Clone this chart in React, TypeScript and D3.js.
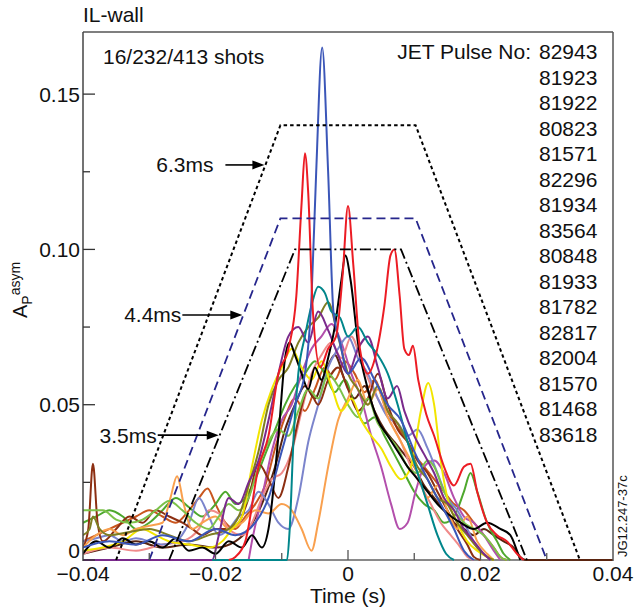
import React from "react";
import * as d3 from "d3";

type Pt = [number, number];

const pulses = ["82943","81923","81922","80823","81571","82296","81934","83564","80848","81933","81782","82817","82004","81570","81468","83618"];

const s82943: Pt[] = [[-0.018,0],[-0.017,0.001],[-0.0155,0.006],[-0.0135,0.030],[-0.012,0.040],[-0.0105,0.060],[-0.009,0.068],[-0.0078,0.085],[-0.0070,0.115],[-0.0065,0.131],[-0.0060,0.118],[-0.0053,0.080],[-0.0042,0.062],[-0.0030,0.068],[-0.0018,0.072],[-0.0008,0.092],[0.0000,0.114],[0.0008,0.095],[0.0018,0.068],[0.0030,0.060],[0.0042,0.066],[0.0055,0.082],[0.0064,0.098],[0.0070,0.100],[0.0078,0.085],[0.0085,0.068],[0.0092,0.066],[0.0098,0.069],[0.0106,0.058],[0.0118,0.047],[0.0130,0.040],[0.0145,0.030],[0.0160,0.024],[0.0175,0.030],[0.0185,0.031],[0.0195,0.022],[0.0210,0.012],[0.0225,0.008],[0.0240,0.006],[0.0255,0.002],[0.0265,0]];
const s81923: Pt[] = [[-0.040,0.004],[-0.036,0.006],[-0.032,0.005],[-0.028,0.008],[-0.024,0.006],[-0.020,0.010],[-0.017,0.008],[-0.014,0.012],[-0.012,0.020],[-0.010,0.035],[-0.008,0.050],[-0.0065,0.060],[-0.0055,0.085],[-0.0048,0.125],[-0.0039,0.165],[-0.0030,0.125],[-0.0022,0.080],[-0.0012,0.070],[0.000,0.060],[0.002,0.065],[0.004,0.058],[0.006,0.050],[0.008,0.045],[0.010,0.035],[0.012,0.026],[0.014,0.018],[0.016,0.010],[0.0175,0.003],[0.019,0]];
const s81922: Pt[] = [[-0.0205,0],[-0.0092,0],[-0.0088,0.010],[-0.0082,0.040],[-0.0075,0.060],[-0.0065,0.072],[-0.0055,0.082],[-0.0045,0.088],[-0.0035,0.086],[-0.0025,0.080],[-0.0012,0.078],[0.0000,0.072],[0.0015,0.075],[0.003,0.070],[0.0045,0.066],[0.006,0.060],[0.0075,0.050],[0.009,0.038],[0.0105,0.028],[0.012,0.018],[0.0135,0.008],[0.0148,0.002],[0.016,0]];
const s80823: Pt[] = [[-0.040,0.002],[-0.038,0.006],[-0.036,0.004],[-0.034,0.007],[-0.032,0.005],[-0.030,0.006],[-0.028,0.004],[-0.026,0.007],[-0.024,0.003],[-0.022,0.004],[-0.020,0.002],[-0.018,0.006],[-0.016,0.004],[-0.0145,0.008],[-0.013,0.004],[-0.012,0.010],[-0.0105,0.040],[-0.0095,0.065],[-0.0088,0.070],[-0.008,0.066],[-0.007,0.060],[-0.006,0.055],[-0.005,0.062],[-0.004,0.058],[-0.003,0.065],[-0.002,0.075],[-0.001,0.090],[-0.0004,0.098],[0.0004,0.090],[0.0015,0.070],[0.003,0.055],[0.0045,0.045],[0.006,0.040],[0.0075,0.035],[0.009,0.030],[0.0105,0.026],[0.012,0.022],[0.0135,0.018],[0.015,0.015],[0.017,0.012],[0.019,0.010],[0.021,0.012],[0.023,0.010],[0.0245,0.008],[0.0255,0.003],[0.026,0]];
const s81571: Pt[] = [[-0.040,0],[-0.0205,0],[-0.0195,0.008],[-0.018,0.020],[-0.0165,0.018],[-0.015,0.025],[-0.0135,0.032],[-0.012,0.045],[-0.0105,0.060],[-0.009,0.072],[-0.0075,0.075],[-0.006,0.070],[-0.0045,0.080],[-0.003,0.074],[-0.0015,0.066],[0.000,0.060],[0.0015,0.068],[0.003,0.072],[0.0045,0.062],[0.006,0.052],[0.0074,0.056],[0.0085,0.048],[0.010,0.040],[0.0115,0.034],[0.013,0.028],[0.0145,0.020],[0.016,0.016],[0.0175,0.010],[0.019,0.006],[0.0205,0.002],[0.0215,0]];
const s82296: Pt[] = [[-0.040,0.008],[-0.039,0.010],[-0.0385,0.014],[-0.0375,0.010],[-0.036,0.008],[-0.033,0.009],[-0.030,0.010],[-0.027,0.008],[-0.024,0.006],[-0.021,0.008],[-0.018,0.010],[-0.0165,0.014],[-0.015,0.024],[-0.0135,0.035],[-0.012,0.050],[-0.0105,0.058],[-0.009,0.062],[-0.0075,0.070],[-0.006,0.075],[-0.0045,0.078],[-0.003,0.083],[-0.0015,0.072],[0.000,0.060],[0.0015,0.055],[0.003,0.050],[0.0045,0.056],[0.006,0.048],[0.0075,0.044],[0.009,0.038],[0.0105,0.030],[0.012,0.026],[0.0135,0.020],[0.015,0.018],[0.0165,0.012],[0.018,0.008],[0.0195,0.004],[0.021,0.001],[0.022,0]];
const s81934: Pt[] = [[-0.040,0.003],[-0.037,0.004],[-0.034,0.006],[-0.031,0.010],[-0.029,0.008],[-0.027,0.006],[-0.024,0.005],[-0.021,0.004],[-0.019,0.006],[-0.0175,0.010],[-0.016,0.014],[-0.0145,0.030],[-0.013,0.045],[-0.0115,0.055],[-0.010,0.062],[-0.0085,0.068],[-0.007,0.062],[-0.0055,0.058],[-0.004,0.064],[-0.0025,0.056],[-0.001,0.048],[0.0005,0.052],[0.002,0.045],[0.0035,0.040],[0.005,0.036],[0.0065,0.030],[0.008,0.026],[0.0095,0.030],[0.011,0.048],[0.0121,0.057],[0.013,0.050],[0.014,0.032],[0.015,0.020],[0.0165,0.012],[0.018,0.006],[0.0195,0.003],[0.021,0.001],[0.022,0]];
const s83564: Pt[] = [[-0.040,0.016],[-0.037,0.016],[-0.035,0.013],[-0.033,0.012],[-0.031,0.013],[-0.029,0.016],[-0.027,0.019],[-0.025,0.016],[-0.023,0.012],[-0.021,0.010],[-0.0195,0.014],[-0.018,0.018],[-0.0165,0.016],[-0.015,0.020],[-0.0135,0.030],[-0.012,0.038],[-0.0105,0.042],[-0.009,0.040],[-0.0075,0.048],[-0.006,0.055],[-0.0045,0.052],[-0.003,0.060],[-0.0015,0.056],[0.000,0.050],[0.0015,0.046],[0.003,0.052],[0.0045,0.044],[0.006,0.040],[0.0075,0.036],[0.009,0.030],[0.0105,0.028],[0.012,0.032],[0.013,0.030],[0.0145,0.022],[0.016,0.016],[0.0175,0.012],[0.019,0.010],[0.0205,0.008],[0.022,0.004],[0.023,0.001],[0.024,0]];
const s80848: Pt[] = [[-0.040,0.004],[-0.038,0.008],[-0.036,0.010],[-0.034,0.008],[-0.032,0.010],[-0.030,0.011],[-0.028,0.012],[-0.0268,0.020],[-0.0258,0.027],[-0.0248,0.018],[-0.0235,0.010],[-0.022,0.012],[-0.020,0.014],[-0.018,0.010],[-0.016,0.012],[-0.014,0.016],[-0.012,0.015],[-0.010,0.018],[-0.0085,0.016],[-0.007,0.010],[-0.0055,0.003],[-0.0045,0.012],[-0.003,0.030],[-0.0015,0.045],[0.000,0.052],[0.0015,0.058],[0.003,0.050],[0.0045,0.055],[0.006,0.046],[0.0075,0.040],[0.009,0.034],[0.0105,0.028],[0.012,0.020],[0.0135,0.024],[0.015,0.016],[0.0165,0.010],[0.018,0.014],[0.0195,0.006],[0.021,0.002],[0.022,0]];
const s81933: Pt[] = [[-0.040,0.004],[-0.0392,0.010],[-0.0385,0.031],[-0.0378,0.012],[-0.037,0.006],[-0.035,0.010],[-0.033,0.014],[-0.031,0.012],[-0.029,0.016],[-0.027,0.014],[-0.025,0.012],[-0.0235,0.010],[-0.022,0.008],[-0.020,0.010],[-0.018,0.010],[-0.0165,0.012],[-0.015,0.020],[-0.0135,0.031],[-0.012,0.026],[-0.0105,0.020],[-0.009,0.030],[-0.0075,0.045],[-0.006,0.055],[-0.0045,0.050],[-0.003,0.058],[-0.0015,0.062],[0.000,0.055],[0.0015,0.048],[0.003,0.052],[0.0045,0.060],[0.006,0.050],[0.0075,0.042],[0.009,0.038],[0.0105,0.032],[0.012,0.028],[0.0135,0.022],[0.015,0.016],[0.0165,0.010],[0.018,0.005],[0.019,0.001],[0.020,0]];
const s81782: Pt[] = [[-0.040,0.006],[-0.038,0.007],[-0.036,0.008],[-0.034,0.006],[-0.032,0.007],[-0.030,0.006],[-0.028,0.005],[-0.026,0.006],[-0.024,0.012],[-0.0225,0.020],[-0.021,0.014],[-0.0195,0.008],[-0.018,0.010],[-0.0165,0.014],[-0.015,0.016],[-0.0135,0.022],[-0.012,0.018],[-0.0105,0.012],[-0.009,0.010],[-0.0075,0.020],[-0.006,0.038],[-0.0045,0.050],[-0.003,0.062],[-0.0015,0.068],[0.000,0.072],[0.0015,0.065],[0.003,0.060],[0.0045,0.052],[0.006,0.046],[0.0075,0.044],[0.009,0.040],[0.0105,0.042],[0.012,0.036],[0.0135,0.028],[0.015,0.020],[0.0165,0.016],[0.018,0.010],[0.0195,0.004],[0.021,0.001],[0.022,0]];
const s82817: Pt[] = [[-0.040,0.002],[-0.036,0.004],[-0.032,0.003],[-0.028,0.005],[-0.025,0.006],[-0.0225,0.010],[-0.021,0.016],[-0.0195,0.015],[-0.018,0.010],[-0.016,0.008],[-0.0145,0.012],[-0.013,0.020],[-0.0115,0.026],[-0.010,0.028],[-0.0085,0.035],[-0.007,0.048],[-0.0055,0.060],[-0.004,0.066],[-0.0025,0.070],[-0.001,0.065],[0.0005,0.072],[0.002,0.064],[0.0035,0.056],[0.005,0.050],[0.0065,0.044],[0.008,0.038],[0.0095,0.030],[0.011,0.024],[0.0125,0.018],[0.014,0.012],[0.0155,0.008],[0.017,0.004],[0.018,0.001],[0.019,0]];
const s82004: Pt[] = [[-0.015,0],[-0.0145,0.006],[-0.013,0.020],[-0.0115,0.035],[-0.010,0.045],[-0.0085,0.050],[-0.007,0.060],[-0.0055,0.068],[-0.004,0.072],[-0.0025,0.076],[-0.001,0.070],[0.0005,0.060],[0.002,0.052],[0.0035,0.040],[0.005,0.030],[0.0065,0.018],[0.0078,0.010],[0.009,0.012],[0.0102,0.022],[0.0115,0.030],[0.013,0.032],[0.0145,0.028],[0.016,0.020],[0.0175,0.014],[0.019,0.012],[0.0205,0.008],[0.022,0.003],[0.023,0]];
const s81570: Pt[] = [[-0.040,0.012],[-0.038,0.014],[-0.036,0.016],[-0.034,0.014],[-0.032,0.010],[-0.030,0.012],[-0.028,0.016],[-0.026,0.020],[-0.024,0.017],[-0.022,0.014],[-0.020,0.018],[-0.0185,0.022],[-0.017,0.018],[-0.0155,0.020],[-0.014,0.026],[-0.0125,0.034],[-0.011,0.042],[-0.0095,0.050],[-0.008,0.056],[-0.0065,0.060],[-0.005,0.064],[-0.0035,0.060],[-0.002,0.054],[-0.0005,0.058],[0.001,0.050],[0.0025,0.044],[0.004,0.046],[0.0055,0.040],[0.007,0.034],[0.0085,0.028],[0.010,0.022],[0.0115,0.018],[0.013,0.016],[0.0145,0.012],[0.016,0.014],[0.0175,0.022],[0.0185,0.028],[0.0195,0.022],[0.021,0.012],[0.0225,0.006],[0.0235,0.002],[0.0245,0]];
const s81468: Pt[] = [[-0.040,0.002],[-0.036,0.004],[-0.032,0.006],[-0.028,0.004],[-0.024,0.005],[-0.020,0.004],[-0.017,0.006],[-0.015,0.010],[-0.013,0.018],[-0.011,0.030],[-0.0095,0.042],[-0.008,0.050],[-0.0065,0.056],[-0.005,0.052],[-0.0035,0.060],[-0.002,0.066],[-0.0005,0.058],[0.001,0.052],[0.0025,0.056],[0.004,0.048],[0.0055,0.042],[0.007,0.038],[0.0085,0.034],[0.010,0.030],[0.0115,0.024],[0.013,0.020],[0.0145,0.016],[0.016,0.012],[0.0175,0.010],[0.019,0.008],[0.0205,0.010],[0.022,0.008],[0.0235,0.006],[0.025,0.004],[0.026,0.001],[0.0268,0],[0.040,0]];
const s83618: Pt[] = [[-0.040,0.006],[-0.038,0.008],[-0.036,0.010],[-0.034,0.012],[-0.032,0.014],[-0.030,0.016],[-0.028,0.014],[-0.026,0.012],[-0.024,0.016],[-0.0225,0.020],[-0.0212,0.023],[-0.020,0.018],[-0.0185,0.012],[-0.017,0.010],[-0.0155,0.014],[-0.014,0.018],[-0.0125,0.024],[-0.011,0.036],[-0.0095,0.046],[-0.008,0.052],[-0.0065,0.048],[-0.005,0.055],[-0.0035,0.062],[-0.002,0.058],[-0.0005,0.064],[0.001,0.060],[0.0025,0.054],[0.004,0.058],[0.0055,0.050],[0.007,0.044],[0.0085,0.040],[0.010,0.034],[0.0115,0.030],[0.013,0.026],[0.0145,0.022],[0.016,0.018],[0.0175,0.016],[0.019,0.012],[0.0205,0.008],[0.022,0.004],[0.023,0.001],[0.024,0]];

const seriesValues: Pt[][] = [s82943,s81923,s81922,s80823,s81571,s82296,s81934,s83564,s80848,s81933,s81782,s82817,s82004,s81570,s81468,s83618];
const seriesColors = ["#ec1c24","#3b56b8","#00868b","#000000","#7a2a8c","#7f7d22","#f2e500","#7cc24a","#f9a04e","#8c2f12","#7b84cc","#f08a8a","#b34fac","#4ea82e","#5a2410","#c9561e"];

const trapDotted: Pt[] = [[-0.035,0],[-0.0102,0.14],[0.0102,0.14],[0.035,0]];
const trapDashed: Pt[] = [[-0.030,0],[-0.0102,0.11],[0.0102,0.11],[0.030,0]];
const trapDashDot: Pt[] = [[-0.027,0],[-0.008,0.10],[0.008,0.10],[0.027,0]];
const annotLabels = ["6.3ms","4.4ms","3.5ms"];
const annotValues = [0.1272,0.0789,0.0402];

const xTicks = [-0.04,-0.02,0,0.02,0.04];
const xTickLabels = ["\u22120.04","\u22120.02","0","0.02","0.04"];
const xMinorTicks = [-0.03,-0.01,0.01,0.03];
const yTicks = [0,0.05,0.10,0.15];
const yTickLabels = ["0","0.05","0.10","0.15"];
const yMinorTicks = [0.025,0.075,0.125];

const W = 642, H = 612;
const L = 83, R = 613, T = 32, B = 560;
const FONT = "'Liberation Sans', Arial, Helvetica, sans-serif";

export default function App() {
  const x = d3.scaleLinear().domain([-0.04, 0.04]).range([L, R]);
  const y = d3.scaleLinear().domain([0, 0.17]).range([B, T]);
  const line = d3.line<Pt>().x(d => x(d[0])).y(d => y(d[1])).curve(d3.curveMonotoneX);
  const trapLine = d3.line<Pt>().x(d => x(d[0])).y(d => y(d[1]));
  const traps = [trapDotted, trapDashed, trapDashDot];
  const leftEdgeT = (tr: Pt[], v: number) => tr[0][0] + (v / tr[1][1]) * (tr[1][0] - tr[0][0]);
  const annotLen = [39, 60, 61];
  const annotGap = [12, 1, 1];
  const order = d3.range(seriesValues.length).reverse();

  return (
    <svg width={W} height={H} style={{ position: "absolute", left: 0, top: 0, background: "#fff" }} fontFamily={FONT}>
      <defs>
        <clipPath id="plotclip"><rect x={L} y={T - 2} width={R - L} height={B - T + 3} /></clipPath>
      </defs>
      <rect x={0} y={0} width={W} height={H} fill="#fff" />
      <line x1={L} y1={B} x2={R} y2={B} stroke="#8a8a8a" strokeWidth={2} />
      <g clipPath="url(#plotclip)">
        {order.map(i => (
          <path key={pulses[i]} d={line(seriesValues[i]) || ""} fill="none" stroke={seriesColors[i]} strokeWidth={2} strokeLinejoin="round" />
        ))}
      </g>
      <path d={trapLine(trapDotted) || ""} fill="none" stroke="#000" strokeWidth={2} strokeDasharray="3.5,3" />
      <path d={trapLine(trapDashed) || ""} fill="none" stroke="#26268c" strokeWidth={1.8} strokeDasharray="9,5" />
      <path d={trapLine(trapDashDot) || ""} fill="none" stroke="#000" strokeWidth={1.8} strokeDasharray="11,3.5,2,3.5" />
      {annotLabels.map((lab, i) => {
        const v = annotValues[i];
        const tipX = x(leftEdgeT(traps[i], v)) - 1;
        const yy = y(v);
        const tailX = tipX - annotLen[i];
        return (
          <g key={lab}>
            <line x1={tailX} y1={yy} x2={tipX - 10} y2={yy} stroke="#000" strokeWidth={1.6} />
            <polygon points={`${tipX},${yy} ${tipX - 12},${yy - 4.5} ${tipX - 12},${yy + 4.5}`} fill="#000" />
            <text x={tailX - annotGap[i]} y={yy + 7.5} fontSize={21} textAnchor="end" fill="#111">{lab}</text>
          </g>
        );
      })}
      <line x1={L} y1={T} x2={R} y2={T} stroke="#555" strokeWidth={1.5} />
      <line x1={L} y1={T} x2={L} y2={B + 1} stroke="#444" strokeWidth={1.5} />
      <line x1={R} y1={T} x2={R} y2={B + 1} stroke="#555" strokeWidth={1.5} />
      {yTicks.map((t, i) => (
        <g key={"y" + t}>
          <line x1={L} x2={L + 12} y1={y(t)} y2={y(t)} stroke="#333" strokeWidth={1.3} />
          <text x={L - 3} y={i === 0 ? y(t) - 2 : y(t) + 7.5} fontSize={21} textAnchor="end" fill="#111">{yTickLabels[i]}</text>
        </g>
      ))}
      {yMinorTicks.map(t => (
        <line key={"ym" + t} x1={L} x2={L + 7} y1={y(t)} y2={y(t)} stroke="#333" strokeWidth={1.3} />
      ))}
      {xTicks.map((t, i) => (
        <g key={"x" + t}>
          {i > 0 && i < xTicks.length - 1 && <line x1={x(t)} x2={x(t)} y1={B} y2={B - 10} stroke="#555" strokeWidth={1.3} />}
          <text x={x(t)} y={B + 21} fontSize={21} textAnchor="middle" fill="#111">{xTickLabels[i]}</text>
        </g>
      ))}
      {xMinorTicks.map(t => (
        <line key={"xm" + t} x1={x(t)} x2={x(t)} y1={B} y2={B - 7} stroke="#555" strokeWidth={1.3} />
      ))}
      <text x={(L + R) / 2} y={603} fontSize={21} textAnchor="middle" fill="#111">Time (s)</text>
      <text transform="translate(27,318) rotate(-90)" fill="#111">
        <tspan fontSize={20}>A</tspan>
        <tspan fontSize={14} dy={5}>P</tspan>
        <tspan fontSize={14} dy={-12}>asym</tspan>
      </text>
      <text x={L} y={22} fontSize={21} fill="#111">IL-wall</text>
      <text x={103} y={64} fontSize={21} fill="#111">16/232/413 shots</text>
      <text x={531} y={59} fontSize={21} textAnchor="end" fill="#111">JET Pulse No:</text>
      {pulses.map((p, i) => (
        <text key={p} x={539} y={59 + i * 25.53} fontSize={21} fill="#111">{p}</text>
      ))}
      <text transform="translate(627,557) rotate(-90)" fontSize={13} fill="#111">JG12.247-37c</text>
    </svg>
  );
}
